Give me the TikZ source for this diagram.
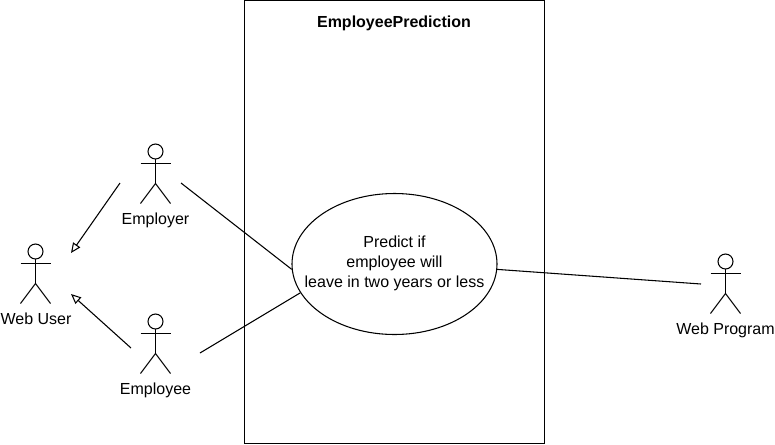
\documentclass[tikz,border=0pt]{standalone}
\usepackage{fontspec}
\setmainfont{Liberation Sans}
\usetikzlibrary{arrows.meta, shapes.geometric}

\tikzset{
    label text/.style={font=\fontsize{12}{15}\selectfont, align=center, inner sep=0pt},
    line/.style={black, line width=0.8pt},
    inherit/.style={line, -{Triangle[open, length=7.5pt, width=6.5pt]}},
    actor/.pic={
        \draw[line] (0,-12) circle (7.5);
        \draw[line] (0,-4.5) -- (0,20);
        \draw[line] (-15,0) -- (15,0);
        \draw[line] (-15,40) -- (0,20) -- (15,40);
    }
}

\begin{document}
% one pixel of the reference is one unit
\begin{tikzpicture}[x=0.75pt, y=-0.75pt]
    \useasboundingbox (0,0) rectangle (775,444);

    \node[draw, line, minimum width=300*0.75pt, minimum height=443*0.75pt, inner sep=0pt, anchor=north west] (systembox) at (243.8,0) {};
    \node[label text, font=\fontsize{12}{15}\selectfont\bfseries] (systemname) at (394,23.5) {EmployeePrediction};

    \node[draw, line, ellipse, minimum width=205*0.75pt, minimum height=141*0.75pt, inner sep=0pt] (predict) at (394.5,264) {};
    \node[label text] (predicttext) at (394.5,263) {Predict if\\employee will\\leave in two years or less};

    % actors
    \pic at (155.5,163.5) {actor};
    \pic at (35.5,263.5) {actor};
    \pic at (155.5,333.5) {actor};
    \pic at (725.5,273.5) {actor};
    \node[label text] (employer) at (155.5,220) {Employer};
    \node[label text] (webuser) at (36,319) {Web User};
    \node[label text] (employee) at (155.5,390) {Employee};
    \node[label text] (webprogram) at (725.5,330) {Web Program};

    \coordinate (employerout) at (120,183);
    \coordinate (webusertop) at (71,253);
    \coordinate (employeeout) at (131,348);
    \coordinate (webuserlow) at (71,294);
    \coordinate (employerline) at (181,183);
    \coordinate (employeeline) at (200,353);
    \coordinate (programline) at (701,284);

    \draw[inherit] (employerout) -- (webusertop);
    \draw[inherit] (employeeout) -- (webuserlow);
    \draw[line] (employerline) -- (predict.183);
    \draw[line] (employeeline) -- (predict.197);
    \draw[line] (predict.357) -- (programline);
\end{tikzpicture}
\end{document}
